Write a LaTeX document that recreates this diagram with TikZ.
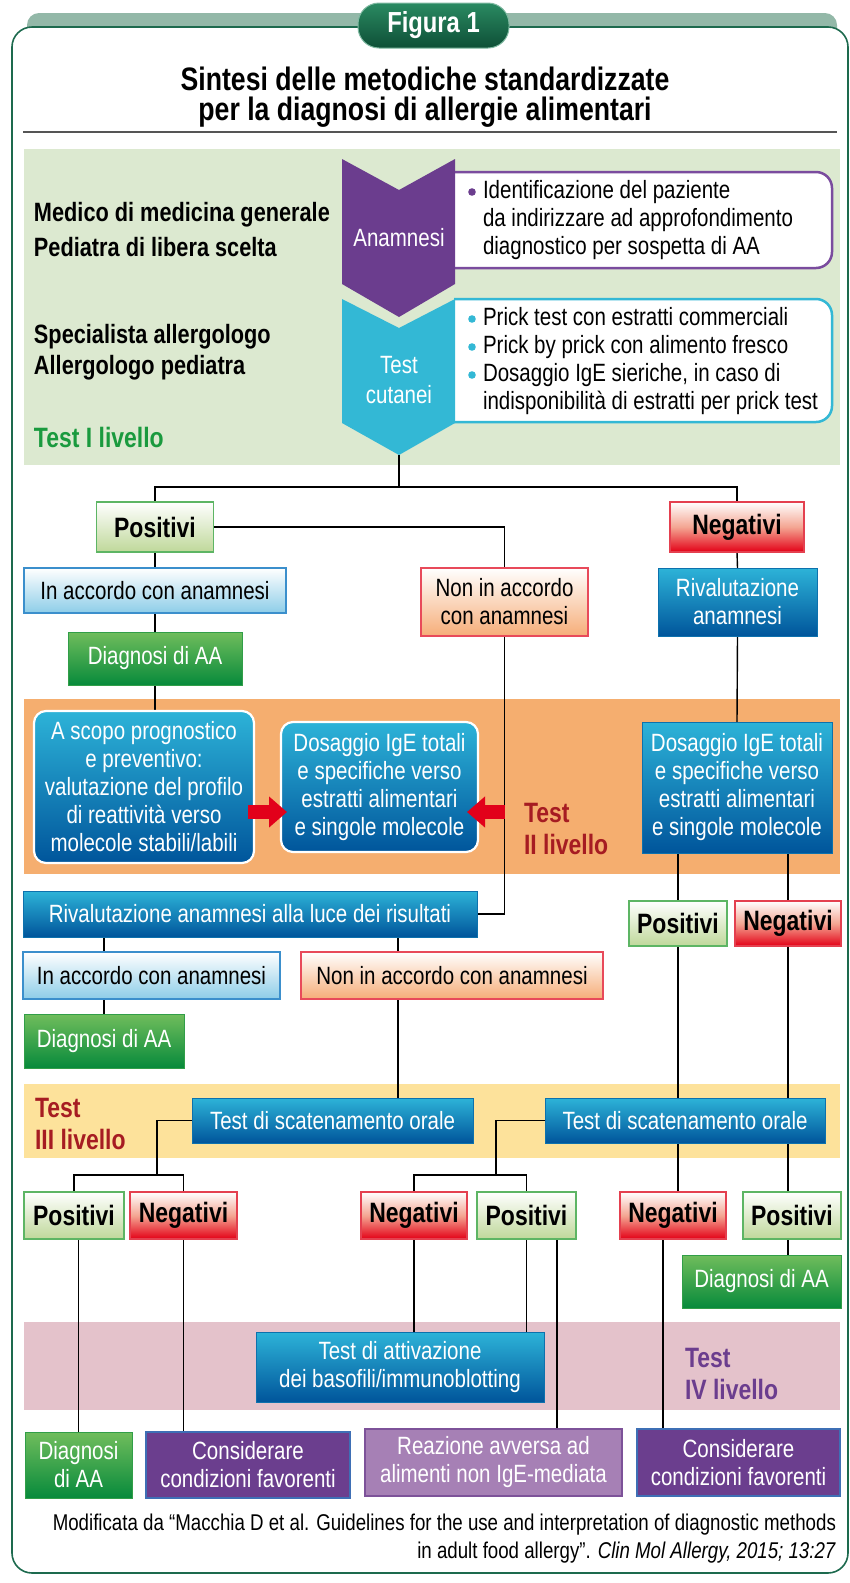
\documentclass[tikz,border=0pt]{standalone}
\usepackage{fontspec}
\setmainfont{Liberation Sans}[FakeStretch=0.82]
\usetikzlibrary{arrows.meta,calc}
\pgfdeclarelayer{bands}
\pgfdeclarelayer{lines}
\pgfsetlayers{bands,lines,main}
\definecolor{bandI}{HTML}{DCE9D0}
\definecolor{bandII}{HTML}{F5AE6F}
\definecolor{bandIII}{HTML}{FDE29B}
\definecolor{bandIV}{HTML}{E4C2CB}
\definecolor{purp}{HTML}{6B3D8E}
\definecolor{purpbord}{HTML}{7A4C9E}
\definecolor{cyanx}{HTML}{33B8D5}
\definecolor{bluetop}{HTML}{2DB3D8}
\definecolor{bluebot}{HTML}{00559B}
\definecolor{greentop}{HTML}{70BD5C}
\definecolor{greenbot}{HTML}{078A3B}
\definecolor{posbot}{HTML}{BFD89A}
\definecolor{posborder}{HTML}{5DB564}
\definecolor{negbot}{HTML}{E30016}
\definecolor{negmid}{HTML}{F4A592}
\definecolor{negborder}{HTML}{E4404F}
\definecolor{accbot}{HTML}{8DCDE8}
\definecolor{accborder}{HTML}{3B8FCC}
\definecolor{nonbot}{HTML}{F6AD78}
\definecolor{nonborder}{HTML}{E84A5A}
\definecolor{conscol}{HTML}{6B3E8E}
\definecolor{consborder}{HTML}{3E6FB5}
\definecolor{reazcol}{HTML}{A680B5}
\definecolor{reazborder}{HTML}{7D5299}
\definecolor{darkred}{HTML}{A61C22}
\definecolor{greenlbl}{HTML}{1A9A3E}
\definecolor{framegreen}{HTML}{1D6A4E}
\definecolor{bandtop}{HTML}{93B8A8}
\definecolor{pilltop}{HTML}{2A8A62}
\definecolor{pillbot}{HTML}{0E4F36}
\definecolor{arrowred}{HTML}{E2001A}
\definecolor{rulegray}{HTML}{555555}
\newcommand\bx[7]{\node[#6, minimum width={(#4-#2)*1pt}, minimum height={(#5-#3)*1pt}] (#1) at ({(#2+#4)/2},{(#3+#5)/2}) {#7};}
\tikzset{
  every node/.style={inner sep=0pt, outer sep=0pt},
  txt/.style={font=\fontsize{25}{28}\selectfont, align=center},
  txtb/.style={font=\bfseries\fontsize{28}{30}\selectfont, align=center},
  lbl/.style={font=\bfseries\fontsize{26.5}{30}\selectfont, anchor=west, align=left},
  lvl/.style={font=\bfseries\fontsize{28}{32}\selectfont, anchor=west, align=left},
  posbox/.style={txtb, draw=posborder, line width=1.3pt, top color=white, bottom color=posbot},
  negbox/.style={txtb, draw=negborder, line width=1.3pt, top color=white, bottom color=negbot, middle color=negmid},
  accbox/.style={txt, draw=accborder, line width=1.3pt, top color=white, bottom color=accbot},
  nonbox/.style={txt, draw=nonborder, line width=1.3pt, top color=white, bottom color=nonbot},
  bluebox/.style={txt, text=white, draw=bluebot!70!bluetop, line width=1pt, top color=bluetop, bottom color=bluebot},
  rbluebox/.style={bluebox, draw=white, line width=2.2pt, rounded corners=12pt},
  greenbox/.style={txt, text=white, draw=greenbot!60!greentop, line width=0.8pt, top color=greentop, bottom color=greenbot},
  consbox/.style={txt, text=white, fill=conscol, draw=consborder, line width=1.3pt},
  reazbox/.style={txt, text=white, fill=reazcol, draw=reazborder, line width=1.3pt},
  conn/.style={draw=black, line width=1.4pt},
  redarr/.style={line width=14pt, draw=arrowred, -{Triangle[length=18pt,width=30pt]}},
  pill/.style={font=\bfseries\fontsize{29}{30}\selectfont, text=white, minimum width=151pt, minimum height=45pt, rounded corners=21pt, top color=pilltop, bottom color=pillbot, draw=pilltop!60!white, line width=1pt},
}
\begin{document}
\begin{tikzpicture}[x=1pt,y=-1pt]
\useasboundingbox (0,0) rectangle (850,1583);
\begin{pgfonlayer}{bands}
\fill[bandtop, rounded corners=12pt] (27,13) rectangle (837,45);
\draw[framegreen, line width=1.6pt, fill=white, rounded corners=20pt] (12,27) rectangle (848,1573);
\fill[bandI] (24,149) rectangle (840,465);
\fill[bandII] (24,699) rectangle (840,874);
\fill[bandIII] (24,1084) rectangle (840,1158);
\fill[bandIV] (24,1322) rectangle (840,1410);
\end{pgfonlayer}

% header
\node[pill] (fig) at (433.5,25.5) {Figura 1};
\node[font=\bfseries\fontsize{32.5}{30}\selectfont, align=center] (title) at (425,97) {Sintesi delle metodiche standardizzate\\per la diagnosi di allergie alimentari};
\draw[rulegray, line width=1.3pt] (23,132) -- (837,132);

% level I
\node[lbl] (medico) at (34,215) {Medico di medicina generale};
\node[lbl] (pediatra) at (34,247) {Pediatra di libera scelta};
\node[lbl] (spec) at (34,337) {Specialista allergologo};
\node[lbl] (allerg) at (34,368) {Allergologo pediatra};
\node[lvl, text=greenlbl] (test1) at (34,437) {Test I livello};

\draw[draw=purpbord, line width=2.5pt, fill=white] (440,172) [rounded corners=16pt] -- (832,172) -- (832,268) [sharp corners] -- (440,268);
\draw[draw=cyanx, line width=2.5pt, fill=white] (454,299) [rounded corners=16pt] -- (832,299) -- (832,422) [sharp corners] -- (440,422);
\fill[cyanx] (342,299) -- (399,328) -- (455,299) -- (455,423) -- (399,455) -- (342,423) -- cycle;
\fill[purp] (342,159) -- (399,190) -- (455,159) -- (455,284) -- (399,317) -- (342,284) -- cycle;
\coordinate (tip) at (399,455);
\node[txt, text=white] (anam) at (399,238) {Anamnesi};
\node[txt, text=white, font=\fontsize{25}{30}\selectfont] (cut) at (399,380) {Test\\cutanei};
\node[txt, anchor=west, align=left] (anamtxt) at (483,220) {Identificazione del paziente\\da indirizzare ad approfondimento\\diagnostico per sospetta di AA};
\fill[purp] (472,192) circle (3.8);
\node[txt, anchor=west, align=left] (cuttxt) at (483,361) {Prick test con estratti commerciali\\Prick by prick con alimento fresco\\Dosaggio IgE sieriche, in caso di\\indisponibilità di estratti per prick test};
\fill[cyanx] (472,319) circle (3.8);
\fill[cyanx] (472,347) circle (3.8);
\fill[cyanx] (472,375) circle (3.8);

% level I results
\bx{pos1}{96.5}{502}{213.5}{552}{posbox}{Positivi}
\bx{neg1}{670}{502}{804}{552}{negbox}{Negativi}
\bx{acc1}{24}{568}{286}{613}{accbox}{In accordo con anamnesi}
\bx{nonacc1}{421}{568}{588}{636}{nonbox}{Non in accordo\\con anamnesi}
\bx{riv1}{658}{568}{817}{636}{bluebox}{Rivalutazione\\anamnesi}
\bx{diag1}{68}{632}{242}{685}{greenbox}{Diagnosi di AA}

% level II
\bx{ascopo}{34}{711}{254}{863}{rbluebox}{A scopo prognostico\\e preventivo:\\valutazione del profilo\\di reattività verso\\molecole stabili/labili}
\bx{dos1}{281}{722}{478}{852}{rbluebox}{Dosaggio IgE totali\\e specifiche verso\\estratti alimentari\\e singole molecole}
\bx{dos2}{642}{722}{832}{853}{bluebox}{Dosaggio IgE totali\\e specifiche verso\\estratti alimentari\\e singole molecole}
\node[lvl, text=darkred] (test2) at (524,829) {Test\\II livello};
\bx{pos2}{629}{901}{727}{946}{posbox}{Positivi}
\bx{neg2}{735}{901}{841}{946}{negbox}{Negativi}
\bx{riv2}{23}{891}{477}{937}{bluebox}{Rivalutazione anamnesi alla luce dei risultati}
\bx{acc2}{23}{952}{280}{999}{accbox}{In accordo con anamnesi}
\bx{nonacc2}{301}{952}{603}{999}{nonbox}{Non in accordo con anamnesi}
\bx{diag2}{24}{1014}{184}{1068}{greenbox}{Diagnosi di AA}

% level III
\node[lvl, text=darkred] (test3) at (35,1124) {Test\\III livello};
\bx{tds1}{192}{1098}{473}{1143}{bluebox}{Test di scatenamento orale}
\bx{tds2}{545}{1098}{825}{1143}{bluebox}{Test di scatenamento orale}
\bx{pos3}{24}{1192}{124}{1239}{posbox}{Positivi}
\bx{neg3}{130}{1192}{237}{1239}{negbox}{Negativi}
\bx{neg4}{361}{1192}{467}{1239}{negbox}{Negativi}
\bx{pos4}{477}{1192}{576}{1239}{posbox}{Positivi}
\bx{neg5}{620}{1192}{726}{1239}{negbox}{Negativi}
\bx{pos5}{743}{1192}{841}{1239}{posbox}{Positivi}
\bx{diag3}{682}{1255}{841}{1308}{greenbox}{Diagnosi di AA}

% level IV
\bx{tda}{256}{1332}{544}{1402}{bluebox}{Test di attivazione\\dei basofili/immunoblotting}
\node[lvl, text=purp] (test4) at (685,1374) {Test\\IV livello};
\bx{diag4}{25}{1432}{132}{1498}{greenbox}{Diagnosi\\di AA}
\bx{cons1}{146}{1432}{350}{1498}{consbox}{Considerare\\condizioni favorenti}
\bx{reaz}{365}{1429}{622}{1496}{reazbox}{Reazione avversa ad\\alimenti non IgE-mediata}
\bx{cons2}{637}{1429}{840}{1496}{consbox}{Considerare\\condizioni favorenti}

\node[anchor=east, align=right, font=\fontsize{22.8}{28}\selectfont] (cite) at (836,1539) {Modificata da “Macchia D et al. Guidelines for the use and interpretation of diagnostic methods\\in adult food allergy”. \textit{Clin Mol Allergy, 2015; 13:27}};

% red arrows
\draw[redarr] ($(ascopo.east)+(-6,25)$) -- ($(dos1.west)+(6,25)$);
\draw[redarr] ($(dos1.east -| nonacc1.south)+(0,25)$) -- ($(dos1.east)+(-11,25)$);

% connectors
\coordinate (j1) at (399,487);
\coordinate (j3) at (157,1175);
\coordinate (j4) at (496,1175);
\coordinate (g398) at (398,0);
\coordinate (g557) at (557,0);
\coordinate (g663) at (663,0);
\begin{pgfonlayer}{lines}
\draw[conn] (tip) -- (j1);
\draw[conn] (pos1.north) |- (j1) -| (neg1.north);
\draw[conn] (pos1.east) -| (nonacc1.north);
\draw[conn] (pos1.south) -- (acc1.north);
\draw[conn] (acc1.south) -- (diag1.north);
\draw[conn] (diag1.south) -- (diag1.south |- ascopo.north);
\draw[conn] (neg1.south) -- (riv1.north);
\draw[conn] (riv1.south) -- (dos2.north);
\draw[conn] (nonacc1.south) |- (riv2.east);
\draw[conn] (pos2.north) -- (pos2.north |- dos2.south);
\draw[conn] (neg2.north) -- (neg2.north |- dos2.south);
\draw[conn] (diag2.north) -- (diag2.north |- riv2.south);
\draw[conn] (riv2.south -| g398) -- (tds1.north -| g398);
\draw[conn] (tds1.west) -| (j3);
\draw[conn] (pos3.north) |- (j3) -| (neg3.north);
\draw[conn] (tds2.west) -| (j4);
\draw[conn] (neg4.north) |- (j4) -| (pos4.north);
\draw[conn] (pos2.south) -- (neg5.north -| pos2.south);
\draw[conn] (neg2.south) -- (pos5.north -| neg2.south);
\draw[conn] (pos5.south -| neg2.south) -- (diag3.north -| neg2.south);
\draw[conn] (diag4.north) -- (diag4.north |- pos3.south);
\draw[conn] (neg3.south) -- (neg3.south |- cons1.north);
\draw[conn] (neg4.south) -- (neg4.south |- tda.north);
\draw[conn] (pos4.south) -- (pos4.south |- tda.north);
\draw[conn] (pos4.south -| g557) -- (reaz.north -| g557);
\draw[conn] (neg5.south -| g663) -- (cons2.north -| g663);
\end{pgfonlayer}
\end{tikzpicture}
\end{document}
